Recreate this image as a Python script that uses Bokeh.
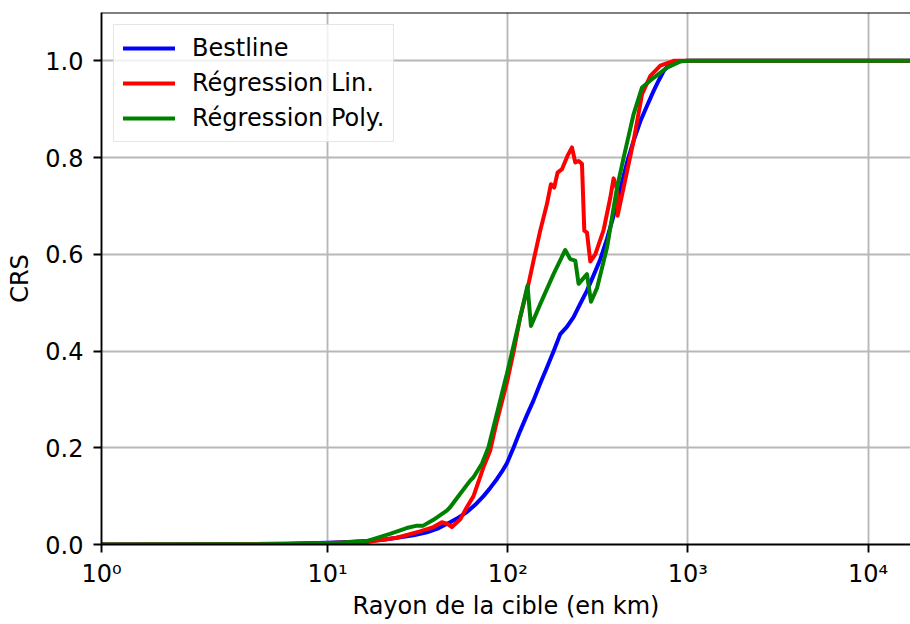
import numpy as np
from bokeh.plotting import figure
from bokeh.models import (FixedTicker, CustomJSTickFormatter, NumeralTickFormatter,
                          Span, Legend, LegendItem, Range1d)
from bokeh.embed import file_html
from bokeh.resources import INLINE

# ---------------- data ----------------
best_km = [1, 3, 6, 10, 13, 16.5, 20.5, 25.3, 30, 35.6, 41.5, 47.9, 53.5, 59.3, 66, 73.4,
           80, 87, 93, 99, 107.7, 117.3, 128, 139.1, 151.5, 165.1, 180, 195.7, 213, 232,
           252, 275.4, 300, 326.6, 355.7, 387, 421.6, 459.5, 500, 544.6, 590, 645.6, 690,
           733.6, 780, 833.7, 900, 989.7, 1200, 20000]
best_crs = [0.0, 0.0008, 0.0018, 0.0035, 0.005, 0.007, 0.010, 0.015, 0.019, 0.025, 0.034,
            0.046, 0.056, 0.067, 0.082, 0.100, 0.117, 0.135, 0.151, 0.168, 0.200, 0.235,
            0.268, 0.298, 0.333, 0.366, 0.400, 0.435, 0.450, 0.470, 0.497, 0.525, 0.557,
            0.590, 0.632, 0.680, 0.735, 0.790, 0.835, 0.875, 0.905, 0.938, 0.960, 0.979,
            0.990, 0.996, 0.999, 1.0, 1.0, 1.0]

lin_km = [1, 3, 6, 10, 16.5, 24.2, 32.6, 38.7, 43.1, 46, 49, 54.5, 59.3, 64.6, 73.4, 79.9,
          87.1, 99, 108, 117.3, 130.5, 139.1, 151.5, 165.1, 173.7, 181.2, 189.1, 200,
          214.9, 227.3, 237.1, 247.4, 258.3, 266.1, 275.4, 287.3, 306.2, 340.5, 370.9,
          387, 404.3, 407.4, 439.8, 499.9, 556.6, 619, 703.5, 833.7, 20000]
lin_crs = [0.0, 0.0006, 0.0015, 0.003, 0.005, 0.014, 0.027, 0.036, 0.046, 0.043, 0.036,
           0.052, 0.077, 0.100, 0.160, 0.194, 0.255, 0.335, 0.400, 0.470, 0.539, 0.587,
           0.649, 0.704, 0.745, 0.738, 0.769, 0.776, 0.804, 0.821, 0.790, 0.793, 0.787,
           0.649, 0.645, 0.585, 0.600, 0.650, 0.717, 0.757, 0.735, 0.680, 0.738, 0.835,
           0.931, 0.969, 0.990, 1.0, 1.0]

poly_km = [1, 3, 6, 10, 16.5, 22.2, 27.5, 31.3, 34.0, 38.7, 45.9, 47.9, 54.5, 61.9, 64.6,
           71.9, 78.2, 88.9, 96.8, 99.0, 117.3, 128.8, 134.6, 151.5, 179.6, 208.6, 222.4,
           237.1, 247.4, 275.4, 289.9, 313, 355.7, 404.3, 440, 479, 499.9, 556.6, 645.6,
           766.2, 908.4, 1032, 20000]
poly_crs = [0.0, 0.0004, 0.001, 0.002, 0.007, 0.022, 0.034, 0.039, 0.039, 0.051, 0.070,
            0.077, 0.105, 0.132, 0.139, 0.167, 0.201, 0.284, 0.339, 0.353, 0.470, 0.535,
            0.452, 0.497, 0.559, 0.609, 0.590, 0.587, 0.539, 0.559, 0.502, 0.530, 0.614,
            0.738, 0.800, 0.860, 0.890, 0.945, 0.965, 0.986, 0.999, 1.0, 1.0]

series_names = ["Bestline", "Régression Lin.", "Régression Poly."]
x_tick_values = [1, 10, 100, 1000, 10000]
x_tick_labels = ["10⁰", "10¹", "10²", "10³", "10⁴"]
y_tick_values = [0.0, 0.2, 0.4, 0.6, 0.8, 1.0]
x_limits = [1, 17200]
y_limits = [0.0, 1.1]

# ---------------- symlog scale (linthresh=2, linscale=1, base 10) ----------------
LINTHRESH = 2.0
LINSCALE_ADJ = 1.0 / (1.0 - 1.0 / 10.0)


def symlog(x):
    x = np.asarray(x, dtype=float)
    a = np.abs(x)
    safe = np.maximum(a, 1e-300)
    return np.where(a > LINTHRESH,
                    np.sign(x) * LINTHRESH * (LINSCALE_ADJ + np.log10(safe / LINTHRESH)),
                    x * LINSCALE_ADJ)


FONT = "DejaVu Sans"
FS = "24px"

p = figure(width=910, height=624, output_backend="svg", toolbar_location=None,
           x_range=Range1d(float(symlog(x_limits[0])), float(symlog(x_limits[1]))),
           y_range=Range1d(*y_limits),
           min_border_left=101, min_border_right=0, min_border_top=12, min_border_bottom=80)
p.outline_line_color = None
p.background_fill_color = "white"
p.border_fill_color = "white"

tick_pos = [float(v) for v in symlog(x_tick_values)]
xticker = FixedTicker(ticks=tick_pos)
yticker = FixedTicker(ticks=y_tick_values)

p.xaxis.ticker = xticker
p.xaxis.formatter = CustomJSTickFormatter(
    args=dict(pos=tick_pos, labs=x_tick_labels),
    code="for (let i = 0; i < pos.length; i++) { if (Math.abs(pos[i] - tick) < 1e-6) return labs[i]; } return '';")
p.yaxis.ticker = yticker
p.yaxis.formatter = NumeralTickFormatter(format="0.0")
p.xgrid.ticker = xticker
p.ygrid.ticker = yticker

p.grid.grid_line_color = "#b8b8b8"
p.grid.grid_line_width = 1.9

for ax in (p.xaxis[0], p.yaxis[0]):
    ax.axis_line_color = "black"
    ax.axis_line_width = 1.9
    ax.major_tick_line_color = "black"
    ax.major_tick_line_width = 1.9
    ax.major_tick_in = 0
    ax.major_tick_out = 8
    ax.minor_tick_line_color = None
    ax.major_label_text_font = FONT
    ax.major_label_text_font_size = FS
    ax.major_label_text_color = "black"
    ax.axis_label_text_font = FONT
    ax.axis_label_text_font_size = FS
    ax.axis_label_text_font_style = "normal"
    ax.axis_label_text_color = "black"

p.xaxis.major_label_standoff = 7
p.yaxis.major_label_standoff = 10
p.xaxis.axis_label = "Rayon de la cible (en km)"
p.yaxis.axis_label = "CRS"
p.xaxis.axis_label_standoff = 1
p.yaxis.axis_label_standoff = 8

# top spine
p.add_layout(Span(location=y_limits[1], dimension="width", line_color="black", line_width=1.9))

LW = 4
r_best = p.line(symlog(best_km), best_crs, line_color="#0000ff", line_width=LW,
                line_join="round", line_cap="round")
r_lin = p.line(symlog(lin_km), lin_crs, line_color="#ff0000", line_width=LW,
               line_join="round", line_cap="round")
r_poly = p.line(symlog(poly_km), poly_crs, line_color="#008000", line_width=LW,
                line_join="round", line_cap="round")

legend = Legend(items=[LegendItem(label=series_names[0], renderers=[r_best]),
                       LegendItem(label=series_names[1], renderers=[r_lin]),
                       LegendItem(label=series_names[2], renderers=[r_poly])],
                location="top_left", margin=12, padding=9, spacing=7,
                glyph_width=52, glyph_height=28, label_height=28, label_standoff=17,
                label_text_font=FONT, label_text_font_size=FS, label_text_color="black",
                border_line_color="#cccccc", border_line_width=1.5,
                background_fill_color="white", background_fill_alpha=0.8)
p.add_layout(legend)

open("out.html", "w").write(file_html(p, INLINE))
